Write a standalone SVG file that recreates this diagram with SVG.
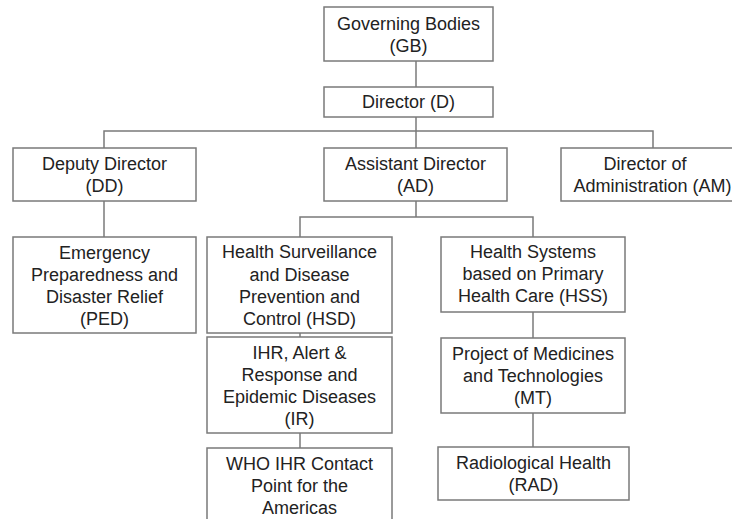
<svg xmlns="http://www.w3.org/2000/svg" width="732" height="519" viewBox="0 0 732 519">
  <style>
    .box { fill: #ffffff; stroke: #7a7a7a; stroke-width: 1.5; }
    .link { fill: none; stroke: #7a7a7a; stroke-width: 1.5; }
    text { font-family: "Liberation Sans", Arial, sans-serif; font-size: 18px; fill: #222222; text-anchor: middle; }
  </style>
  <rect width="732" height="519" fill="#ffffff"/>

  <g id="connectors">
    <path class="link" d="M416 61 V87"/>
    <path class="link" d="M416 117 V148"/>
    <path class="link" d="M104 148 V131 H653 V148"/>
    <path class="link" d="M104 201 V237"/>
    <path class="link" d="M416 201 V217"/>
    <path class="link" d="M300 237 V217 H533 V237"/>
    <path class="link" d="M300 333 V337"/>
    <path class="link" d="M300 433 V448"/>
    <path class="link" d="M533 312 V338"/>
    <path class="link" d="M533 413 V447"/>
  </g>

  <g id="GB">
    <rect class="box" x="324" y="7" width="169" height="54"/>
    <text x="408.5" y="30">Governing Bodies</text>
    <text x="408.5" y="52">(GB)</text>
  </g>

  <g id="D">
    <rect class="box" x="324" y="87" width="169" height="30"/>
    <text x="408.5" y="108">Director (D)</text>
  </g>

  <g id="DD">
    <rect class="box" x="13" y="148" width="183" height="53"/>
    <text x="104.5" y="170">Deputy Director</text>
    <text x="104.5" y="192">(DD)</text>
  </g>

  <g id="AD">
    <rect class="box" x="324" y="148" width="183" height="53"/>
    <text x="415.5" y="170">Assistant Director</text>
    <text x="415.5" y="192">(AD)</text>
  </g>

  <g id="AM">
    <rect class="box" x="561" y="148" width="180" height="53"/>
    <text x="645" y="170">Director of</text>
    <text x="652.5" y="192">Administration (AM)</text>
  </g>

  <g id="PED">
    <rect class="box" x="13" y="237" width="183" height="96"/>
    <text x="104.5" y="259">Emergency</text>
    <text x="104.5" y="281">Preparedness and</text>
    <text x="104.5" y="303">Disaster Relief</text>
    <text x="104.5" y="325">(PED)</text>
  </g>

  <g id="HSD">
    <rect class="box" x="207" y="237" width="185" height="96"/>
    <text x="299.5" y="258">Health Surveillance</text>
    <text x="299.5" y="281">and Disease</text>
    <text x="299.5" y="303">Prevention and</text>
    <text x="299.5" y="325">Control (HSD)</text>
  </g>

  <g id="IR">
    <rect class="box" x="207" y="337" width="185" height="96"/>
    <text x="299.5" y="359">IHR, Alert &amp;</text>
    <text x="299.5" y="381">Response and</text>
    <text x="299.5" y="403">Epidemic Diseases</text>
    <text x="299.5" y="425">(IR)</text>
  </g>

  <g id="WHO-IHR">
    <rect class="box" x="207" y="448" width="185" height="80"/>
    <text x="299.5" y="470">WHO IHR Contact</text>
    <text x="299.5" y="492">Point for the</text>
    <text x="299.5" y="514">Americas</text>
  </g>

  <g id="HSS">
    <rect class="box" x="441" y="237" width="184" height="75"/>
    <text x="533" y="258">Health Systems</text>
    <text x="533" y="280">based on Primary</text>
    <text x="533" y="302">Health Care (HSS)</text>
  </g>

  <g id="MT">
    <rect class="box" x="441" y="338" width="184" height="75"/>
    <text x="533" y="360">Project of Medicines</text>
    <text x="533" y="382">and Technologies</text>
    <text x="533" y="404">(MT)</text>
  </g>

  <g id="RAD">
    <rect class="box" x="438" y="447" width="191" height="53"/>
    <text x="533.5" y="469">Radiological Health</text>
    <text x="533.5" y="491">(RAD)</text>
  </g>
</svg>
